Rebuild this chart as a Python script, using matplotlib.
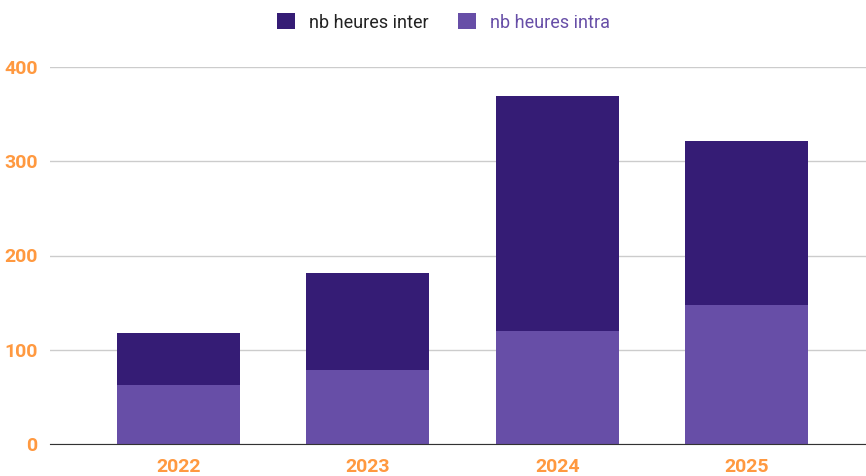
import matplotlib.pyplot as plt
import numpy as np

years = ['2022', '2023', '2024', '2025']
heures_intra = [63, 78, 120, 148]
heures_inter = [55, 103, 249, 174]

color_inter = '#351c75'
color_intra = '#674ea7'
tick_color = '#ff9940'

plt.rcParams['font.family'] = ['Roboto', 'DejaVu Sans']

fig = plt.figure(figsize=(8.66, 4.76), dpi=100)
ax = fig.add_axes([50 / 866, 1 - 444 / 476, 1 - 50 / 866, (444 - 67) / 476])

x = np.arange(len(years))
width = 0.65
ax.bar(x, heures_intra, width, color=color_intra, label='nb heures intra', zorder=3)
ax.bar(x, heures_inter, width, bottom=heures_intra, color=color_inter,
       label='nb heures inter', zorder=3)

ax.set_xlim(-0.678, 3.63)
ax.set_ylim(0, 400)
ax.set_yticks([0, 100, 200, 300, 400])
ax.set_xticks(x)
ax.set_xticklabels(years)

ax.grid(axis='y', color='#cccccc', linewidth=1, zorder=0)
for side in ['top', 'right', 'left']:
    ax.spines[side].set_visible(False)
ax.spines['bottom'].set_color('#333333')
ax.spines['bottom'].set_zorder(4)
ax.tick_params(axis='both', length=0, colors=tick_color, labelsize=14)
ax.tick_params(axis='y', pad=9)
ax.tick_params(axis='x', pad=10)
for lbl in ax.get_xticklabels() + ax.get_yticklabels():
    lbl.set_fontweight('semibold')

handles, labels = ax.get_legend_handles_labels()
leg = fig.legend(handles[::-1], labels[::-1], loc='center', bbox_to_anchor=(0.512, 0.953),
                 ncol=2, frameon=False, fontsize=13, handlelength=1.0, handleheight=1.0,
                 columnspacing=1.6, handletextpad=0.8)
leg.get_texts()[0].set_color('#222222')
leg.get_texts()[1].set_color(color_intra)

fig.savefig('out.png', dpi=100)
